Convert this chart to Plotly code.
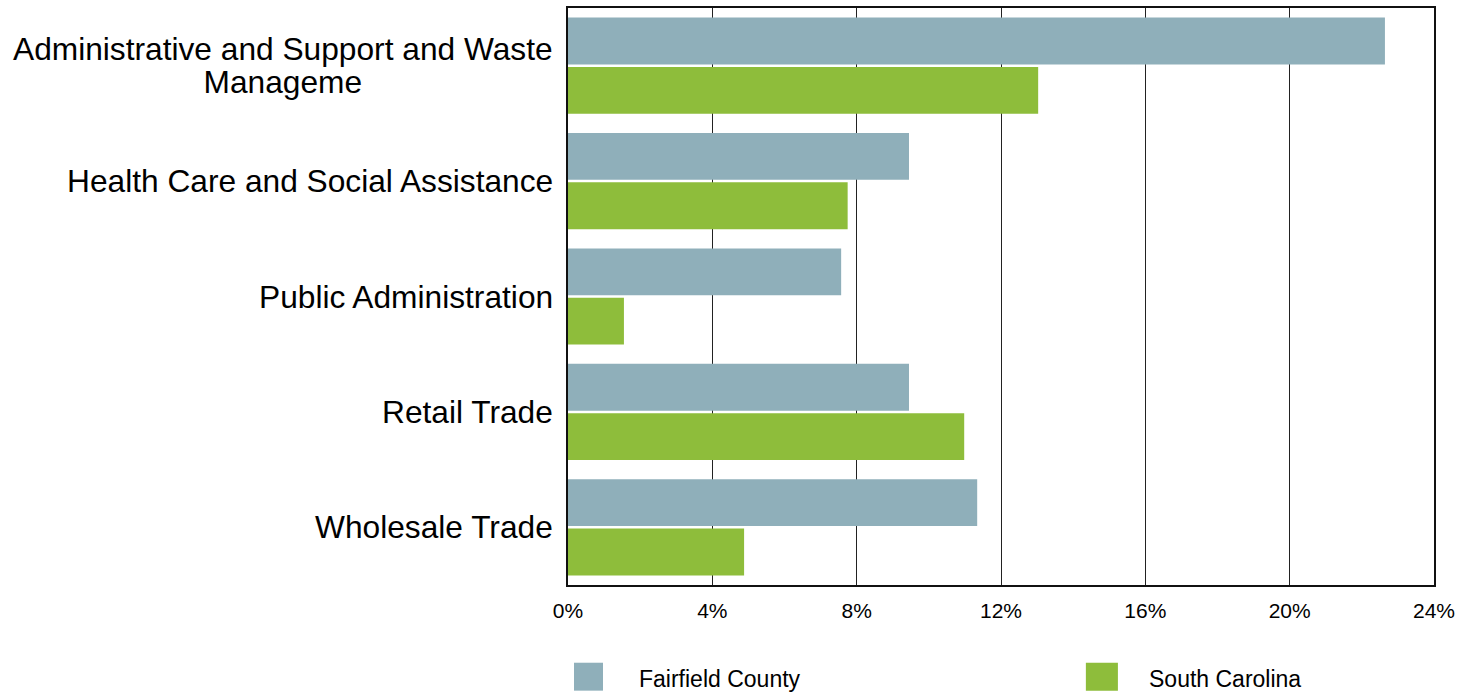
import plotly.graph_objects as go

categories = [
    "Administrative and Support and Waste<br>Manageme",
    "Health Care and Social Assistance",
    "Public Administration",
    "Retail Trade",
    "Wholesale Trade",
]
fairfield = [22.64, 9.45, 7.57, 9.45, 11.34]
south_carolina = [13.03, 7.75, 1.55, 10.98, 4.88]
series_names = ["Fairfield County", "South Carolina"]
series_colors = ["#8FAFBA", "#8EBD3B"]
x_ticks = [0, 4, 8, 12, 16, 20, 24]
x_ticklabels = ["0%", "4%", "8%", "12%", "16%", "20%", "24%"]

FONT = "Liberation Sans, Arial, sans-serif"

fig = go.Figure()
for name, vals, col in zip(series_names, [fairfield, south_carolina], series_colors):
    fig.add_trace(go.Bar(
        y=categories, x=vals, name=name, orientation="h",
        marker=dict(color=col, line=dict(width=0)),
        showlegend=False, hoverinfo="skip",
    ))

# category labels as annotations (centered multi-line, tighter line spacing)
for c in categories:
    txt = "<br>".join('<span style="font-size:31.7px">%s</span>' % part for part in c.split("<br>"))
    fig.add_annotation(
        x=0, xref="paper", y=c, yref="y", text=txt, showarrow=False,
        xanchor="right", yanchor="middle", align="center", xshift=-13,
        font=dict(family=FONT, size=25, color="#000"),
    )

# legend
legend_pos = [(0.0069, 0.0404, 0.0795), (0.598, 0.635, 0.669)]
for (x0, x1, xt), name, col in zip(legend_pos, series_names, series_colors):
    fig.add_shape(type="rect", xref="paper", yref="paper",
                  x0=x0, x1=x1, y0=-0.1831, y1=-0.1347,
                  fillcolor=col, line=dict(width=0))
    fig.add_annotation(x=xt, y=-0.1623, xref="paper", yref="paper",
                       text=name, showarrow=False, xanchor="left", yanchor="middle",
                       font=dict(family=FONT, size=23, color="#000"))

fig.update_layout(
    width=1473, height=693,
    margin=dict(l=568, r=39, t=6, b=108),
    paper_bgcolor="white", plot_bgcolor="white",
    barmode="group", bargap=0.145, bargroupgap=0.05,
    font=dict(family=FONT, color="#000"),
    xaxis=dict(
        range=[0, 24], tickvals=x_ticks, ticktext=x_ticklabels,
        showgrid=True, gridcolor="#222", gridwidth=1,
        showline=True, linecolor="#111", linewidth=2, mirror=True,
        zeroline=False, tickfont=dict(size=21, family=FONT, color="#000"),
        ticks="", ticklabelstandoff=6,
    ),
    yaxis=dict(
        autorange="reversed", showticklabels=False,
        showline=True, linecolor="#111", linewidth=2, mirror=True,
        showgrid=False, zeroline=False,
    ),
)

fig.write_html("out.html", config={"displayModeBar": False},
               post_script="document.body.style.margin='0';document.body.style.overflow='hidden';")
